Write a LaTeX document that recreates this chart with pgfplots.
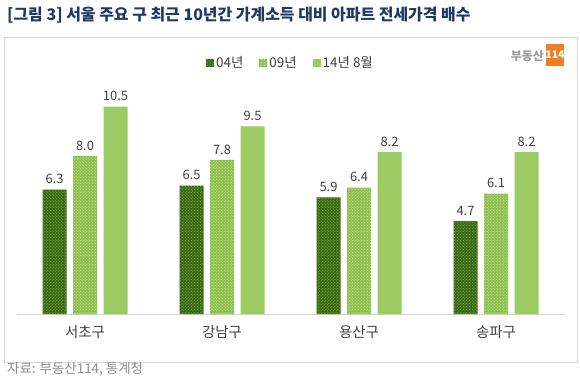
\documentclass[border=0pt]{standalone}
\usepackage{pgfplots}
\pgfplotsset{compat=1.18}
\usepackage{fontspec}
\setmainfont{Noto Sans CJK KR}
\usetikzlibrary{patterns}
\definecolor{titleblue}{HTML}{1F3864}
\definecolor{framegray}{HTML}{D4D4D4}
\definecolor{txt}{HTML}{404040}
\definecolor{srcgray}{HTML}{8C8C8C}
\definecolor{cA}{HTML}{3A6812}
\definecolor{cAdot}{HTML}{8DB85F}
\definecolor{cB}{HTML}{8CBF4A}
\definecolor{cBdot}{HTML}{D6ECBC}
\definecolor{cC}{HTML}{9DCB63}
\definecolor{logoorange}{HTML}{EE7F22}
\begin{document}
\begin{tikzpicture}[x=1bp,y=1bp]
\useasboundingbox (0,0) rectangle (580,378);
\node[anchor=west, font=\bfseries\fontsize{16}{18}\selectfont, text=titleblue, inner sep=0] at (7,363) {[그림 3] 서울 주요 구 최근 10년간 가계소득 대비 아파트 전세가격 배수};
\draw[framegray, fill=white, line width=0.8bp] (4.5,16) rectangle (577.5,341);
\node[font=\bfseries\fontsize{12}{13}\selectfont, text=gray!80, inner sep=0, anchor=east] at (544,322) {부동산};
\fill[logoorange] (546,312) rectangle (564,334);
\node[font=\bfseries\fontsize{10.5}{11}\selectfont, text=white, inner sep=0] at (555,323) {114};
\node[anchor=west, font=\fontsize{13.5}{15}\selectfont, text=srcgray, inner sep=0] at (7,9) {자료: 부동산114, 통계청};
\begin{axis}[
  at={(16.5bp,64bp)}, anchor=south west, scale only axis,
  width=548bp, height=237bp,
  ymin=0, ymax=12, xmin=-0.5, xmax=3.5,
  ybar=6.5bp, bar width=24bp,
  hide y axis,
  axis x line*=bottom,
  x axis line style={draw=framegray, line width=0.8bp, -},
  xtick=data,
  xticklabels={서초구,강남구,용산구,송파구},
  major tick length=0pt,
  xticklabel style={font=\fontsize{14.5}{16}\selectfont, text=txt, yshift=-8bp},
  nodes near coords,
  /pgf/number format/.cd, fixed, fixed zerofill, precision=1, assume math mode=true,
  /pgfplots/.cd,
  every node near coord/.append style={font=\fontsize{13}{15}\selectfont, text=txt, yshift=2bp},
  legend style={at={(0.5,1.06)}, anchor=center, draw=none, fill=none,
    font=\fontsize{13.5}{15}\selectfont, text=txt,
    /tikz/every even column/.append style={column sep=14bp}},
  legend columns=3,
  legend image code/.code={\path[#1] (0bp,-4bp) rectangle (8bp,4bp);},
  clip=false,
]
\addplot[fill=cA, draw=none, postaction={pattern=crosshatch dots, pattern color=cAdot}] coordinates {(0,6.3) (1,6.5) (2,5.9) (3,4.7)};
\addplot[fill=cB, draw=none, postaction={pattern=crosshatch dots, pattern color=cBdot}] coordinates {(0,8.0) (1,7.8) (2,6.4) (3,6.1)};
\addplot[fill=cC, draw=none] coordinates {(0,10.5) (1,9.5) (2,8.2) (3,8.2)};
\legend{04년, 09년, 14년 8월}
\end{axis}
\end{tikzpicture}
\end{document}
